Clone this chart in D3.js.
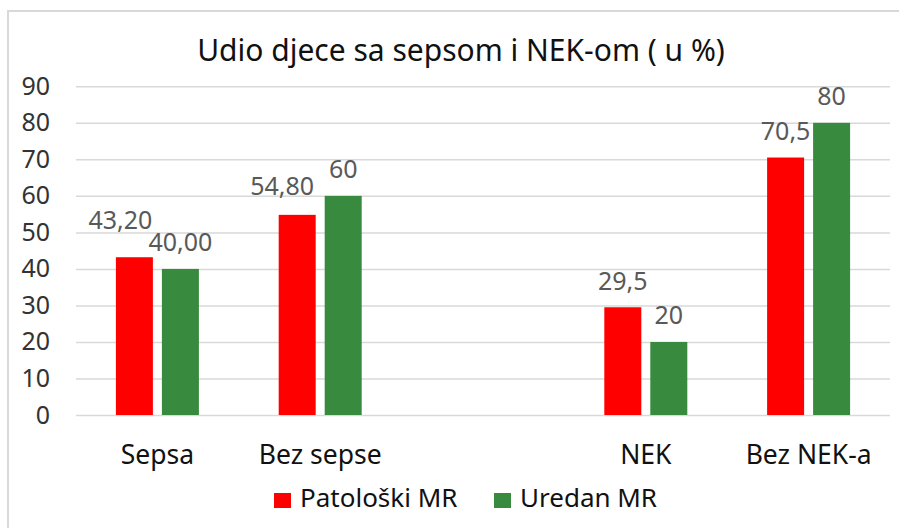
<!DOCTYPE html>
<html>
<head>
<meta charset="utf-8">
<script src="https://cdn.jsdelivr.net/npm/d3@7"></script>
<style>
  html, body { margin: 0; padding: 0; background: #fff; }
  svg text { font-family: "Noto Sans", "Open Sans", sans-serif; }
</style>
</head>
<body>
<div id="myChart"></div>
<script>
// chart data (empty category keeps the gap between the two groups)
var categories = ["Sepsa", "Bez sepse", "", "NEK", "Bez NEK-a"];
var seriesNames = ["Patološki MR", "Uredan MR"];
var patoloski = [43.2, 54.8, null, 29.5, 70.5];
var uredan = [40.0, 60, null, 20, 80];
var patoloskiLabels = ["43,20", "54,80", "", "29,5", "70,5"];
var uredanLabels = ["40,00", "60", "", "20", "80"];
var yTicks = [0, 10, 20, 30, 40, 50, 60, 70, 80, 90];
var titleText = "Udio djece sa sepsom i NEK-om ( u %)";

// label nudges (Excel moved two labels to avoid overlap)
var labelNudge = [[[-14, -11], [0, 0]], [[-15, -2], [0, 0]], [[0, 0], [0, 0]], [[0, 0], [0, 0]], [[0, 0], [0, 0]]];

var colors = ["#ff0000", "#378a3e"];

var width = 899;
var height = 528;

var canvass = d3.select("#myChart")
	.append("svg")
	.attr("width", width)
	.attr("height", height);

// outer chart border
canvass.append("rect")
	.attr("x", 8)
	.attr("y", 11)
	.attr("width", width)
	.attr("height", height)
	.attr("fill", "none")
	.attr("stroke", "#d9d9d9")
	.attr("stroke-width", 2);

var plot = {left: 76, right: 890, top: 86.3, bottom: 415};

var yScale = d3.scaleLinear()
	.domain([0, 90])
	.range([plot.bottom, plot.top]);

var xScale = d3.scaleBand()
	.domain(categories)
	.range([plot.left, plot.right])
	.padding(0);

var groupWidth = 83;
var inner = d3.scaleBand()
	.domain([0, 1])
	.range([0, groupWidth])
	.paddingInner(9 / 46)
	.paddingOuter(0);

function barX(cat, s) {
	return xScale(cat) + (xScale.bandwidth() - groupWidth) / 2 + inner(s);
}

// gridlines
var grid = canvass.append("g")
	.attr("transform", "translate(" + plot.left + ",0)")
	.call(d3.axisLeft(yScale).tickValues(yTicks).tickSize(-(plot.right - plot.left)).tickFormat(""));
grid.select(".domain").remove();
grid.selectAll("line").attr("stroke", "#d9d9d9").attr("stroke-width", 1.5);

// y axis labels
var yAxis = canvass.append("g")
	.attr("transform", "translate(" + plot.left + ",0)")
	.call(d3.axisLeft(yScale).tickValues(yTicks).tickSize(0).tickPadding(26));
yAxis.select(".domain").remove();
yAxis.selectAll("text")
	.style("font-size", "25px")
	.attr("fill", "#333");

// x axis labels
var xAxis = canvass.append("g")
	.attr("transform", "translate(0," + plot.bottom + ")")
	.call(d3.axisBottom(xScale).tickSize(0).tickPadding(30));
xAxis.select(".domain").remove();
xAxis.selectAll("text")
	.style("font-size", "26.5px")
	.attr("fill", "#111");

// bars
var series = [patoloski, uredan];
var labels = [patoloskiLabels, uredanLabels];

series.forEach(function(vals, s) {
	var items = [];
	for (var j = 0; j < categories.length; j++) {
		if (vals[j] != null) {
			items.push({cat: categories[j], v: vals[j], label: labels[s][j], nudge: labelNudge[j][s]});
		}
	}

	canvass.append("g").selectAll("rect")
		.data(items)
		.enter()
		.append("rect")
		.attr("x", function(d) { return barX(d.cat, s); })
		.attr("y", function(d) { return yScale(d.v); })
		.attr("width", inner.bandwidth())
		.attr("height", function(d) { return plot.bottom - yScale(d.v); })
		.attr("fill", colors[s]);

	canvass.append("g").selectAll("text")
		.data(items)
		.enter()
		.append("text")
		.attr("x", function(d) { return barX(d.cat, s) + inner.bandwidth() / 2 + d.nudge[0]; })
		.attr("y", function(d) { return yScale(d.v) - 17.5 + d.nudge[1]; })
		.attr("text-anchor", "middle")
		.style("font-size", "25px")
		.attr("fill", "#595959")
		.text(function(d) { return d.label; });
});

// title
canvass.append("text")
	.attr("x", 461)
	.attr("y", 61)
	.attr("text-anchor", "middle")
	.style("font-size", "30px")
	.attr("fill", "#111")
	.text(titleText);

// legend
var legendX = [274, 494];
var legend = canvass.append("g");
seriesNames.forEach(function(name, i) {
	legend.append("rect")
		.attr("x", legendX[i])
		.attr("y", 493)
		.attr("width", 17)
		.attr("height", 15)
		.attr("fill", colors[i]);
	legend.append("text")
		.attr("x", legendX[i] + 26)
		.attr("y", 507)
		.style("font-size", "26px")
		.attr("fill", "#111")
		.text(name);
});
</script>
</body>
</html>
